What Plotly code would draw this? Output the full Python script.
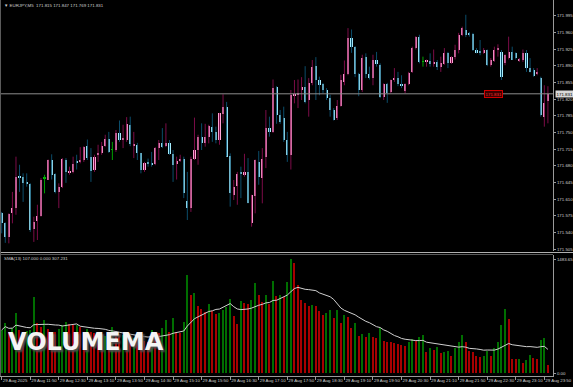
import plotly.graph_objects as go
import pandas as pd

# ---------------- data ----------------
symbol = "EURJPY,M5"
opens = [171.580, 171.560, 171.531, 171.580, 171.591, 171.658, 171.657, 171.644, 171.642, 171.548,
         171.564, 171.575, 171.654, 171.651, 171.692, 171.662, 171.624, 171.636, 171.693, 171.664,
         171.667, 171.690, 171.688, 171.692, 171.721, 171.698, 171.671, 171.703, 171.707, 171.721,
         171.736, 171.713, 171.712, 171.749, 171.733, 171.735, 171.766, 171.723, 171.724, 171.706,
         171.670, 171.688, 171.685, 171.684, 171.717, 171.727, 171.722, 171.728, 171.704, 171.683,
         171.689, 171.694, 171.606, 171.592, 171.694, 171.714, 171.741, 171.727, 171.740, 171.762,
         171.751, 171.735, 171.789, 171.803, 171.700, 171.619, 171.637, 171.665, 171.661, 171.667,
         171.560, 171.616, 171.688, 171.654, 171.698, 171.759, 171.751, 171.845, 171.787, 171.780,
         171.734, 171.703, 171.826, 171.829, 171.838, 171.846, 171.817, 171.854, 171.889, 171.861,
         171.852, 171.839, 171.823, 171.798, 171.780, 171.805, 171.856, 171.873, 171.949, 171.929,
         171.873, 171.838, 171.908, 171.873, 171.864, 171.902, 171.892, 171.824, 171.852, 171.835,
         171.859, 171.864, 171.852, 171.836, 171.852, 171.877, 171.927, 171.950, 171.898, 171.898,
         171.900, 171.894, 171.898, 171.888, 171.894, 171.917, 171.896, 171.908, 171.923, 171.954,
         171.965, 171.958, 171.957, 171.923, 171.921, 171.917, 171.923, 171.892, 171.900, 171.922,
         171.919, 171.895, 171.906, 171.919, 171.916, 171.900, 171.902, 171.916, 171.885, 171.881,
         171.873, 171.865, 171.783, 171.815]
highs = [171.583, 171.561, 171.580, 171.625, 171.699, 171.682, 171.664, 171.664, 171.643, 171.573,
         171.598, 171.654, 171.661, 171.693, 171.704, 171.664, 171.643, 171.696, 171.696, 171.678,
         171.699, 171.703, 171.719, 171.721, 171.735, 171.717, 171.703, 171.724, 171.730, 171.745,
         171.751, 171.730, 171.755, 171.775, 171.766, 171.782, 171.783, 171.751, 171.728, 171.707,
         171.688, 171.695, 171.709, 171.719, 171.734, 171.759, 171.769, 171.734, 171.713, 171.699,
         171.703, 171.699, 171.667, 171.699, 171.781, 171.745, 171.769, 171.768, 171.766, 171.790,
         171.762, 171.791, 171.830, 171.814, 171.706, 171.650, 171.667, 171.678, 171.705, 171.696,
         171.619, 171.693, 171.711, 171.717, 171.797, 171.783, 171.861, 171.847, 171.797, 171.804,
         171.751, 171.839, 171.860, 171.861, 171.866, 171.889, 171.864, 171.902, 171.908, 171.867,
         171.854, 171.843, 171.829, 171.801, 171.818, 171.871, 171.901, 171.969, 171.966, 171.931,
         171.875, 171.913, 171.916, 171.888, 171.913, 171.919, 171.895, 171.853, 171.854, 171.861,
         171.885, 171.877, 171.870, 171.853, 171.877, 171.930, 171.952, 171.955, 171.909, 171.903,
         171.916, 171.924, 171.902, 171.909, 171.927, 171.919, 171.910, 171.934, 171.959, 171.972,
         171.997, 171.961, 171.959, 171.927, 171.944, 171.927, 171.924, 171.906, 171.930, 171.935,
         171.923, 171.914, 171.951, 171.930, 171.918, 171.906, 171.924, 171.923, 171.906, 171.885,
         171.885, 171.867, 171.849, 171.847]
lows = [171.538, 171.518, 171.517, 171.559, 171.577, 171.625, 171.604, 171.636, 171.541, 171.520,
        171.524, 171.573, 171.622, 171.650, 171.651, 171.622, 171.591, 171.633, 171.644, 171.661,
        171.664, 171.672, 171.685, 171.688, 171.692, 171.646, 171.667, 171.688, 171.703, 171.720,
        171.707, 171.692, 171.709, 171.730, 171.717, 171.730, 171.721, 171.696, 171.692, 171.664,
        171.667, 171.678, 171.678, 171.681, 171.692, 171.717, 171.719, 171.703, 171.646, 171.651,
        171.688, 171.612, 171.566, 171.583, 171.692, 171.682, 171.713, 171.720, 171.727, 171.730,
        171.727, 171.724, 171.769, 171.699, 171.594, 171.608, 171.598, 171.612, 171.657, 171.601,
        171.552, 171.580, 171.640, 171.601, 171.675, 171.741, 171.749, 171.768, 171.768, 171.730,
        171.688, 171.672, 171.811, 171.801, 171.818, 171.811, 171.783, 171.849, 171.818, 171.828,
        171.832, 171.818, 171.783, 171.775, 171.776, 171.804, 171.849, 171.870, 171.917, 171.866,
        171.826, 171.835, 171.864, 171.861, 171.849, 171.888, 171.822, 171.818, 171.812, 171.832,
        171.856, 171.847, 171.843, 171.832, 171.849, 171.875, 171.924, 171.895, 171.888, 171.888,
        171.888, 171.888, 171.881, 171.877, 171.892, 171.885, 171.894, 171.903, 171.916, 171.952,
        171.950, 171.951, 171.921, 171.916, 171.912, 171.915, 171.889, 171.888, 171.898, 171.909,
        171.860, 171.891, 171.903, 171.902, 171.903, 171.898, 171.898, 171.877, 171.876, 171.867,
        171.870, 171.783, 171.762, 171.769]
closes = [171.559, 171.530, 171.578, 171.591, 171.657, 171.655, 171.644, 171.642, 171.546, 171.562,
          171.575, 171.651, 171.654, 171.692, 171.661, 171.624, 171.636, 171.694, 171.667, 171.669,
          171.684, 171.687, 171.693, 171.719, 171.696, 171.669, 171.699, 171.707, 171.721, 171.736,
          171.709, 171.713, 171.749, 171.734, 171.738, 171.768, 171.726, 171.725, 171.706, 171.670,
          171.686, 171.684, 171.682, 171.717, 171.727, 171.720, 171.728, 171.704, 171.682, 171.690,
          171.694, 171.622, 171.592, 171.694, 171.714, 171.741, 171.728, 171.740, 171.763, 171.751,
          171.735, 171.790, 171.803, 171.699, 171.622, 171.636, 171.663, 171.663, 171.667, 171.602,
          171.619, 171.692, 171.656, 171.695, 171.760, 171.751, 171.843, 171.787, 171.772, 171.734,
          171.703, 171.829, 171.831, 171.833, 171.845, 171.814, 171.854, 171.888, 171.860, 171.849,
          171.838, 171.822, 171.798, 171.777, 171.805, 171.859, 171.873, 171.948, 171.929, 171.873,
          171.839, 171.907, 171.873, 171.864, 171.902, 171.894, 171.825, 171.852, 171.832, 171.860,
          171.864, 171.852, 171.847, 171.851, 171.875, 171.927, 171.950, 171.898, 171.898, 171.902,
          171.893, 171.896, 171.888, 171.895, 171.917, 171.896, 171.908, 171.923, 171.955, 171.969,
          171.955, 171.955, 171.923, 171.917, 171.916, 171.923, 171.892, 171.902, 171.924, 171.928,
          171.867, 171.912, 171.919, 171.903, 171.906, 171.904, 171.917, 171.885, 171.877, 171.868,
          171.877, 171.787, 171.811, 171.831]
volumes = [560, 647, 538, 591, 779, 560, 520, 545, 560, 989, 647, 604, 692, 569, 538, 529, 569, 626,
           660, 634, 620, 626, 600, 538, 574, 538, 516, 510, 470, 480, 442, 604, 500, 490, 500, 473,
           442, 460, 442, 430, 416, 405, 560, 530, 516, 582, 692, 538, 713, 538, 525, 660, 1274, 1020,
           1041, 867,
           836, 800, 902, 810, 770, 779, 823, 853, 968, 748, 634, 932, 910, 900, 954, 1173, 1020, 923,
           1020, 900, 1195, 1000, 1020, 985, 1182, 1483.65, 1436, 1151, 954, 910, 870, 880, 867, 810,
           757, 779, 823, 722, 823, 648, 757, 735, 591, 648, 486, 503, 470, 525, 468, 460, 582, 416,
           410, 398, 385, 381,
           363, 350, 407, 442, 420, 473, 490, 276, 320, 300, 341, 254, 276, 284, 223, 320, 400, 494,
           398, 284, 275, 223, 210, 220, 284, 223, 320, 398, 626, 830, 700, 188, 180, 188, 130, 170,
           232, 200, 180, 429, 460, 107]
time_labels = ["29 Aug 2025", "29 Aug 11:50", "29 Aug 12:30", "29 Aug 13:10", "29 Aug 13:50",
               "29 Aug 14:30", "29 Aug 15:10", "29 Aug 15:50", "29 Aug 16:30", "29 Aug 17:10",
               "29 Aug 17:50", "29 Aug 18:30", "29 Aug 19:10", "29 Aug 19:50", "29 Aug 20:30",
               "29 Aug 21:10", "29 Aug 21:50", "29 Aug 22:30", "29 Aug 23:10", "29 Aug 23:50"]
label_every = 8          # bars between time labels
price_ticks = [171.505, 171.540, 171.575, 171.610, 171.645, 171.680, 171.715, 171.750,
               171.785, 171.820, 171.855, 171.890, 171.925, 171.960, 171.995]
sma_period = 13
price_label_text = "171.831"

# ---------------- layout constants (pixels) ----------------
W, H = 573, 387
PLOT_R = 553                 # right edge of plotting area
PRICE_TOP, PRICE_BOT = 0, 251
VOL_TOP, VOL_BOT = 255, 376
BAR_PX = 3.57                # pixels per bar
FIRST_BAR_PX = 1.7
PRICE_AT_TOP = 172.028
PRICE_PER_PX = 0.0021
VOL_ZERO_PX = 373

n = len(closes)
idx = list(range(n))
vol_max = max(volumes)
vol_per_px = vol_max / (VOL_ZERO_PX - 259)

def pyp(px):  # pixel row -> paper y
    return 1 - px / H

def pxp(px):  # pixel col -> paper x
    return px / W

x_lo = -FIRST_BAR_PX / BAR_PX
x_hi = (PLOT_R - FIRST_BAR_PX) / BAR_PX

fig = go.Figure()

# ---------------- candles ----------------
groups = {"bull": ([], [], [], []), "bear": ([], [], [], []), "doji": ([], [], [], [])}
for i, (o, h, l, c) in enumerate(zip(opens, highs, lows, closes)):
    k = "bull" if c > o else ("bear" if c < o else "doji")
    gx, gy, bx, bb = groups[k]
    gx += [i, i, None]
    gy += [l, h, None]
    bx.append(i)
    bb.append((min(o, c), max(abs(c - o), 0.0012)))

wick_col = {"bull": "#7c0c48", "bear": "#0b4d6b", "doji": "#00a000"}
body_col = {"bull": "#ffa6d6", "bear": "#a6eeff", "doji": "#00c000"}
for k, (gx, gy, bx, bb) in groups.items():
    fig.add_trace(go.Scatter(x=gx, y=gy, mode="lines", line=dict(color=wick_col[k], width=1),
                             hoverinfo="skip", showlegend=False, xaxis="x", yaxis="y"))
    fig.add_trace(go.Bar(x=bx, y=[b[1] for b in bb], base=[b[0] for b in bb], width=0.6,
                         marker=dict(color=body_col[k], line=dict(width=0)),
                         showlegend=False, xaxis="x", yaxis="y"))

# ---------------- volumes ----------------
vcols = []
for i, v in enumerate(volumes):
    up = i == 0 or v > volumes[i - 1]
    vcols.append("#006e00" if up else "#a80000")
fig.add_trace(go.Bar(x=idx, y=volumes, width=0.36, marker=dict(color=vcols, line=dict(width=0)),
                     showlegend=False, xaxis="x2", yaxis="y2"))
sma = pd.Series(volumes).rolling(sma_period, min_periods=1).mean()
fig.add_trace(go.Scatter(x=idx, y=sma, mode="lines", line=dict(color="#d0d0d0", width=1),
                         showlegend=False, xaxis="x2", yaxis="y2"))

axis_col = "#9a9a9a"
small = dict(family="Liberation Sans, Arial", size=4.4, color="#cfcfcf")

price_range = [PRICE_AT_TOP - PRICE_PER_PX * PRICE_BOT, PRICE_AT_TOP]
vol_range = [-(VOL_BOT - VOL_ZERO_PX) * vol_per_px, vol_max + (259 - VOL_TOP) * vol_per_px]

fig.update_layout(
    template="none",
    width=W, height=H, margin=dict(l=0, r=0, t=0, b=0),
    paper_bgcolor="#000000", plot_bgcolor="#000000",
    barmode="overlay", bargap=0, showlegend=False,
    xaxis=dict(domain=[0, pxp(PLOT_R)], range=[x_lo, x_hi], showticklabels=False,
               showgrid=False, zeroline=False, showline=False, anchor="y", ticks=""),
    xaxis2=dict(domain=[0, pxp(PLOT_R)], range=[x_lo, x_hi], anchor="y2", matches="x",
                tickmode="array", tickvals=idx[::label_every], ticktext=time_labels,
                tickangle=0, ticks="outside", ticklen=3, tickcolor=axis_col, tickwidth=1,
                ticklabelposition="outside right", tickfont=small,
                showgrid=False, zeroline=False, showline=True, linecolor=axis_col, linewidth=1),
    yaxis=dict(domain=[pyp(PRICE_BOT), pyp(PRICE_TOP)], range=price_range, side="right",
               anchor="x", tickmode="array", tickvals=price_ticks,
               ticktext=[f"{t:.3f}" for t in price_ticks], ticks="outside", ticklen=2,
               tickcolor=axis_col, tickfont=small, showgrid=False, zeroline=False,
               showline=True, linecolor=axis_col, linewidth=1),
    yaxis2=dict(domain=[pyp(VOL_BOT), pyp(VOL_TOP)], range=vol_range, side="right",
                anchor="x2", tickmode="array", tickvals=[0, vol_max],
                ticktext=["0.00", f"{vol_max:.2f}"], ticks="outside", ticklen=2,
                tickcolor=axis_col, tickfont=small, showgrid=False, zeroline=False,
                showline=True, linecolor=axis_col, linewidth=1),
)

last_price = closes[-1]
shapes = [
    dict(type="line", xref="paper", yref="y", x0=0, x1=pxp(PLOT_R), y0=last_price, y1=last_price,
         line=dict(color="#8c8c8c", width=1)),
    dict(type="line", xref="paper", yref="paper", x0=0, x1=1, y0=pyp(252.5), y1=pyp(252.5),
         line=dict(color="#b0b0b0", width=1)),
    dict(type="line", xref="paper", yref="paper", x0=0, x1=pxp(PLOT_R), y0=pyp(254.5), y1=pyp(254.5),
         line=dict(color="#5a5a5a", width=1)),
    dict(type="line", xref="paper", yref="paper", x0=pxp(0.5), x1=pxp(0.5), y0=pyp(VOL_BOT), y1=1,
         line=dict(color="#5a5a5a", width=1)),
]
fig.update_layout(shapes=shapes)

title_txt = f"▼ {symbol}  {opens[-1]:.3f} {highs[-1]:.3f} {lows[-1]:.3f} {closes[-1]:.3f}"
ind_txt = f"SMA({sma_period}) {volumes[-1]:.3f} 0.000 {sma.iloc[-1]:.3f}"
ann = [
    dict(text=title_txt, xref="paper", yref="paper", x=pxp(2), y=pyp(1), xanchor="left",
         yanchor="top", showarrow=False, font=small),
    dict(text=ind_txt, xref="paper", yref="paper", x=pxp(2), y=pyp(253.5), xanchor="left",
         yanchor="top", showarrow=False, font=small),
    dict(text="VOLUMEMA", xref="paper", yref="paper", x=pxp(6), y=pyp(342), xanchor="left",
         yanchor="middle", showarrow=False,
         font=dict(family="DejaVu Sans", size=24, color="#f4f4f4", weight="bold",
                   shadow="2px 2px 2px #505050")),
    dict(text=price_label_text, xref="paper", yref="y", x=pxp(493), y=last_price,
         xanchor="center", yanchor="middle", showarrow=False, bgcolor="#3a0000",
         bordercolor="#d00000", borderwidth=1, borderpad=0.5,
         font=dict(family="Liberation Sans, Arial", size=4.4, color="#ff3030")),
    dict(text=f"{last_price:.3f}", xref="paper", yref="y", x=pxp(PLOT_R + 2), y=last_price,
         xanchor="left", yanchor="middle", showarrow=False, bgcolor="#d8d8d8",
         borderpad=0.5, font=dict(family="Liberation Sans, Arial", size=4.4, color="#000000")),
]
fig.update_layout(annotations=ann)

fig.write_html("out.html", config={"displayModeBar": False},
               post_script="document.body.style.margin='0px';document.body.style.background='#000';")
